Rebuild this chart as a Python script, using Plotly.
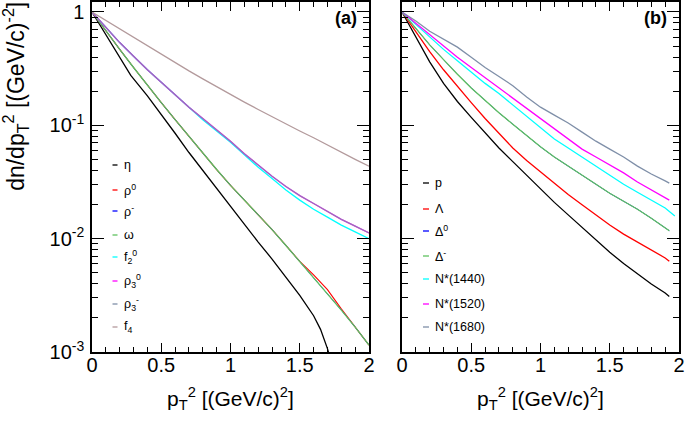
import plotly.graph_objects as go

# ---------------- data (log10 of dn/dpT^2, normalised to 1 at pT^2 = 0) -------------
x_a = [0, 0.1, 0.2, 0.3, 0.4, 0.5, 0.6, 0.7, 0.8, 0.9, 1.0, 1.1, 1.2, 1.3, 1.4,
       1.5, 1.6, 1.7, 1.8, 1.9, 2.0]
x_eta = [0, 0.1, 0.2, 0.28, 0.4, 0.5, 0.6, 0.7, 0.8, 0.9, 1.0, 1.1, 1.2, 1.3,
         1.4, 1.5, 1.6, 1.65, 1.7, 1.73]
log_eta = [0, -0.2, -0.4, -0.56, -0.74, -0.9, -1.07, -1.24, -1.40, -1.56, -1.72,
           -1.87, -2.03, -2.18, -2.34, -2.5, -2.68, -2.8, -2.97, -3.1]
log_rho0 = [0, -0.17, -0.33, -0.49, -0.65, -0.8, -0.95, -1.1, -1.25, -1.39, -1.53,
            -1.66, -1.79, -1.92, -2.06, -2.2, -2.32, -2.45, -2.62, -2.78, -2.94]
log_rhom = [0, -0.17, -0.33, -0.49, -0.65, -0.8, -0.95, -1.1, -1.25, -1.39, -1.53,
            -1.66, -1.79, -1.92, -2.06, -2.2, -2.34, -2.48, -2.63, -2.78, -2.94]
log_omega = [0, -0.17, -0.33, -0.49, -0.65, -0.8, -0.95, -1.1, -1.25, -1.39, -1.53,
             -1.66, -1.79, -1.92, -2.06, -2.2, -2.34, -2.48, -2.63, -2.78, -2.94]
log_f2 = [0, -0.14, -0.27, -0.39, -0.51, -0.62, -0.73, -0.84, -0.95, -1.05, -1.15,
          -1.26, -1.37, -1.47, -1.57, -1.66, -1.74, -1.81, -1.88, -1.94, -2.0]
log_rho3_0 = [0, -0.14, -0.27, -0.39, -0.51, -0.62, -0.73, -0.84, -0.94, -1.04, -1.14,
              -1.25, -1.35, -1.45, -1.54, -1.62, -1.69, -1.76, -1.83, -1.89, -1.95]
log_rho3_m = [0, -0.14, -0.27, -0.39, -0.51, -0.62, -0.73, -0.84, -0.94, -1.04, -1.14,
              -1.25, -1.35, -1.45, -1.54, -1.62, -1.69, -1.76, -1.83, -1.89, -1.95]
log_f4 = [0, -0.075, -0.15, -0.225, -0.3, -0.375, -0.45, -0.52, -0.59, -0.66, -0.73,
          -0.795, -0.86, -0.925, -0.99, -1.05, -1.11, -1.175, -1.24, -1.3, -1.36]

x_b = [0, 0.1, 0.2, 0.3, 0.4, 0.5, 0.6, 0.7, 0.8, 0.9, 1.0, 1.1, 1.2, 1.3, 1.4,
       1.5, 1.6, 1.7, 1.8, 1.9, 1.93]
x_b_cyan = x_b[:-1] + [1.97]
log_p = [0, -0.22, -0.44, -0.63, -0.79, -0.93, -1.07, -1.2, -1.32, -1.44, -1.56,
         -1.68, -1.79, -1.9, -2.01, -2.12, -2.22, -2.31, -2.4, -2.48, -2.51]
log_lam = [0, -0.18, -0.35, -0.51, -0.66, -0.8, -0.94, -1.07, -1.2, -1.31, -1.41,
           -1.51, -1.61, -1.7, -1.79, -1.88, -1.96, -2.03, -2.1, -2.17, -2.2]
log_delta0 = [0, -0.15, -0.29, -0.42, -0.55, -0.67, -0.78, -0.89, -0.99, -1.09, -1.19,
              -1.28, -1.36, -1.44, -1.52, -1.6, -1.67, -1.74, -1.82, -1.9, -1.93]
log_deltam = [0, -0.15, -0.29, -0.42, -0.55, -0.67, -0.78, -0.89, -0.99, -1.09, -1.19,
              -1.28, -1.36, -1.44, -1.52, -1.6, -1.67, -1.74, -1.82, -1.9, -1.93]
log_n1440 = [0, -0.11, -0.22, -0.33, -0.43, -0.53, -0.63, -0.72, -0.82, -0.92, -1.02,
             -1.12, -1.2, -1.28, -1.36, -1.44, -1.52, -1.59, -1.66, -1.73, -1.8]
log_n1520 = [0, -0.1, -0.2, -0.3, -0.4, -0.49, -0.58, -0.67, -0.76, -0.85, -0.94,
             -1.03, -1.12, -1.21, -1.28, -1.35, -1.42, -1.5, -1.57, -1.64, -1.66]
log_n1680 = [0, -0.08, -0.17, -0.24, -0.31, -0.4, -0.49, -0.57, -0.65, -0.75, -0.84,
             -0.91, -0.98, -1.06, -1.14, -1.21, -1.28, -1.36, -1.43, -1.49, -1.51]

names_a = ["η", "ρ<sup>0</sup>", "ρ<sup>-</sup>", "ω", "f<sub>2</sub><sup>0</sup>",
           "ρ<sub>3</sub><sup>0</sup>", "ρ<sub>3</sub><sup>-</sup>", "f<sub>4</sub>"]
names_b = ["p", "Λ", "Δ<sup>0</sup>", "Δ<sup>-</sup>", "N*(1440)", "N*(1520)", "N*(1680)"]

y_tickvals = [1e-3, 1e-2, 1e-1, 1]
y_ticktext = ["10<sup>-3</sup>", "10<sup>-2</sup>", "10<sup>-1</sup>", "1"]
x_tickvals = [0, 0.5, 1, 1.5, 2]
x_ticktext = ["0", "0.5", "1", "1.5", "2"]

# ---------------- styling -----------------------------------------------------------
FONT = "Liberation Sans, Arial, Helvetica, sans-serif"
c_black = "#000000"
c_red = "#ff0000"
c_blue = "#0000ff"
c_green = "#5fc25f"
c_cyan = "#00ffff"
c_mag = "#ff00ff"
c_slate = "#7f8fa8"
c_rosy = "#b39a9c"

colors_a = [c_black, c_red, c_blue, c_green, c_cyan, c_mag, c_slate, c_rosy]
colors_b = [c_black, c_red, c_blue, c_green, c_cyan, c_mag, c_slate]
# thinner lines for curves that sit underneath another identical curve
widths_a = [1.3, 1.1, 0.9, 1.3, 1.3, 1.3, 1.3, 1.3]
widths_b = [1.3, 1.3, 0.9, 1.3, 1.3, 1.3, 1.3]


def lin(v):
    return [10 ** t for t in v]


fig = go.Figure()

series_a = [(x_eta, log_eta), (x_a, log_rho0), (x_a, log_rhom), (x_a, log_omega),
            (x_a, log_f2), (x_a, log_rho3_0), (x_a, log_rho3_m), (x_a, log_f4)]
for (xs, ys), nm, col, w in zip(series_a, names_a, colors_a, widths_a):
    fig.add_trace(go.Scatter(x=xs, y=lin(ys), mode="lines", name=nm,
                             line=dict(color=col, width=w),
                             opacity=0.75 if col == c_slate else 1.0,
                             xaxis="x", yaxis="y", showlegend=False))

series_b = [(x_b, log_p), (x_b, log_lam), (x_b, log_delta0), (x_b, log_deltam),
            (x_b_cyan, log_n1440), (x_b, log_n1520), (x_b, log_n1680)]
for (xs, ys), nm, col, w in zip(series_b, names_b, colors_b, widths_b):
    fig.add_trace(go.Scatter(x=xs, y=lin(ys), mode="lines", name=nm,
                             line=dict(color=col, width=w),
                             xaxis="x2", yaxis="y2", showlegend=False))

y_minor = [m * 10 ** e for e in (-3, -2, -1, 0) for m in range(2, 10)]

xaxis_common = dict(
    range=[0, 2], tickvals=x_tickvals, ticktext=x_ticktext,
    ticks="inside", ticklen=9, tickwidth=1.2, tickcolor="black",
    minor=dict(ticks="inside", ticklen=5, dtick=0.1, tickwidth=1, tickcolor="black"),
    showline=True, linecolor="black", linewidth=1.5, mirror="ticks",
    showgrid=False, zeroline=False, automargin=False,
    tickfont=dict(family=FONT, size=20, color="black"),
    ticklabelstandoff=-6, ticklabeloverflow="allow",
)
yaxis_common = dict(
    type="log", range=[-3, 0.088], tickvals=y_tickvals, ticktext=y_ticktext,
    ticks="inside", ticklen=12, tickwidth=1.2, tickcolor="black",
    minor=dict(ticks="inside", ticklen=6, tickvals=y_minor, tickwidth=1, tickcolor="black"),
    showline=True, linecolor="black", linewidth=1.5, mirror="ticks",
    showgrid=False, zeroline=False, automargin=False,
    tickfont=dict(family=FONT, size=20, color="black"),
    ticklabelstandoff=2, ticklabeloverflow="allow",
)

fig.update_layout(
    width=685, height=425,
    margin=dict(l=92, r=6, t=2, b=73),
    paper_bgcolor="white", plot_bgcolor="white",
    font=dict(family=FONT, color="black"),
    showlegend=False,
    xaxis=dict(domain=[0, 0.4719], anchor="y", **xaxis_common),
    xaxis2=dict(domain=[0.5281, 1], anchor="y2", **xaxis_common),
    yaxis=dict(domain=[0, 1], anchor="x", **yaxis_common),
    yaxis2=dict(domain=[0, 1], anchor="x2", showticklabels=False,
                **{k: v for k, v in yaxis_common.items() if k not in ("tickfont", "ticklabelstandoff")}),
)

annotations = []
shapes = []

# axis titles
xt = "p<sub>T</sub><sup>2</sup> [(GeV/c)<sup>2</sup>]"
for xref in ("x domain", "x2 domain"):
    annotations.append(dict(text=xt, xref=xref, yref="paper", x=0.5, y=-0.085,
                            xanchor="center", yanchor="top", showarrow=False,
                            font=dict(family=FONT, size=21, color="black")))
annotations.append(dict(text="dn/dp<sub>T</sub><sup>2</sup> [(GeV/c)<sup>-2</sup>]",
                        xref="paper", yref="paper", x=-0.131, y=1.005,
                        xanchor="center", yanchor="top", textangle=-90,
                        showarrow=False, font=dict(family=FONT, size=23, color="black")))

# panel labels
annotations.append(dict(text="<b>(a)</b>", xref="x domain", yref="y domain", x=0.965, y=0.955,
                        xanchor="right", yanchor="middle", showarrow=False,
                        font=dict(family=FONT, size=18, color="black")))
annotations.append(dict(text="<b>(b)</b>", xref="x2 domain", yref="y2 domain", x=0.965, y=0.955,
                        xanchor="right", yanchor="middle", showarrow=False,
                        font=dict(family=FONT, size=18, color="black")))

# legends (hand-placed, ROOT style)
PLOT_TOP, PLOT_H = 2, 350
leg_a_y = [165, 190, 211, 235, 257, 281, 304, 327]
leg_b_y = [183, 209, 231, 256, 279, 304, 327]


def ydom(py):
    return 1 - (py - PLOT_TOP) / PLOT_H


for py, nm, col in zip(leg_a_y, names_a, colors_a):
    yy = ydom(py)
    shapes.append(dict(type="line", xref="x domain", yref="y domain",
                       x0=(112.5 - 92) / 277, x1=(117.5 - 92) / 277, y0=yy, y1=yy,
                       line=dict(color=col, width=1.3)))
    annotations.append(dict(text=nm, xref="x domain", yref="y domain",
                            x=(122 - 92) / 277, y=yy, xanchor="left", yanchor="middle",
                            showarrow=False, font=dict(family=FONT, size=12.5, color="black")))

for py, nm, col in zip(leg_b_y, names_b, colors_b):
    yy = ydom(py)
    shapes.append(dict(type="line", xref="x2 domain", yref="y2 domain",
                       x0=(423 - 402) / 277, x1=(429 - 402) / 277, y0=yy, y1=yy,
                       line=dict(color=col, width=1.3)))
    annotations.append(dict(text=nm, xref="x2 domain", yref="y2 domain",
                            x=(433 - 402) / 277, y=yy, xanchor="left", yanchor="middle",
                            showarrow=False, font=dict(family=FONT, size=12.5, color="black")))

fig.update_layout(annotations=annotations, shapes=shapes)
fig.write_html("out.html", config={"displayModeBar": False},
               post_script="document.body.style.margin='0px';document.body.style.padding='0px';")
